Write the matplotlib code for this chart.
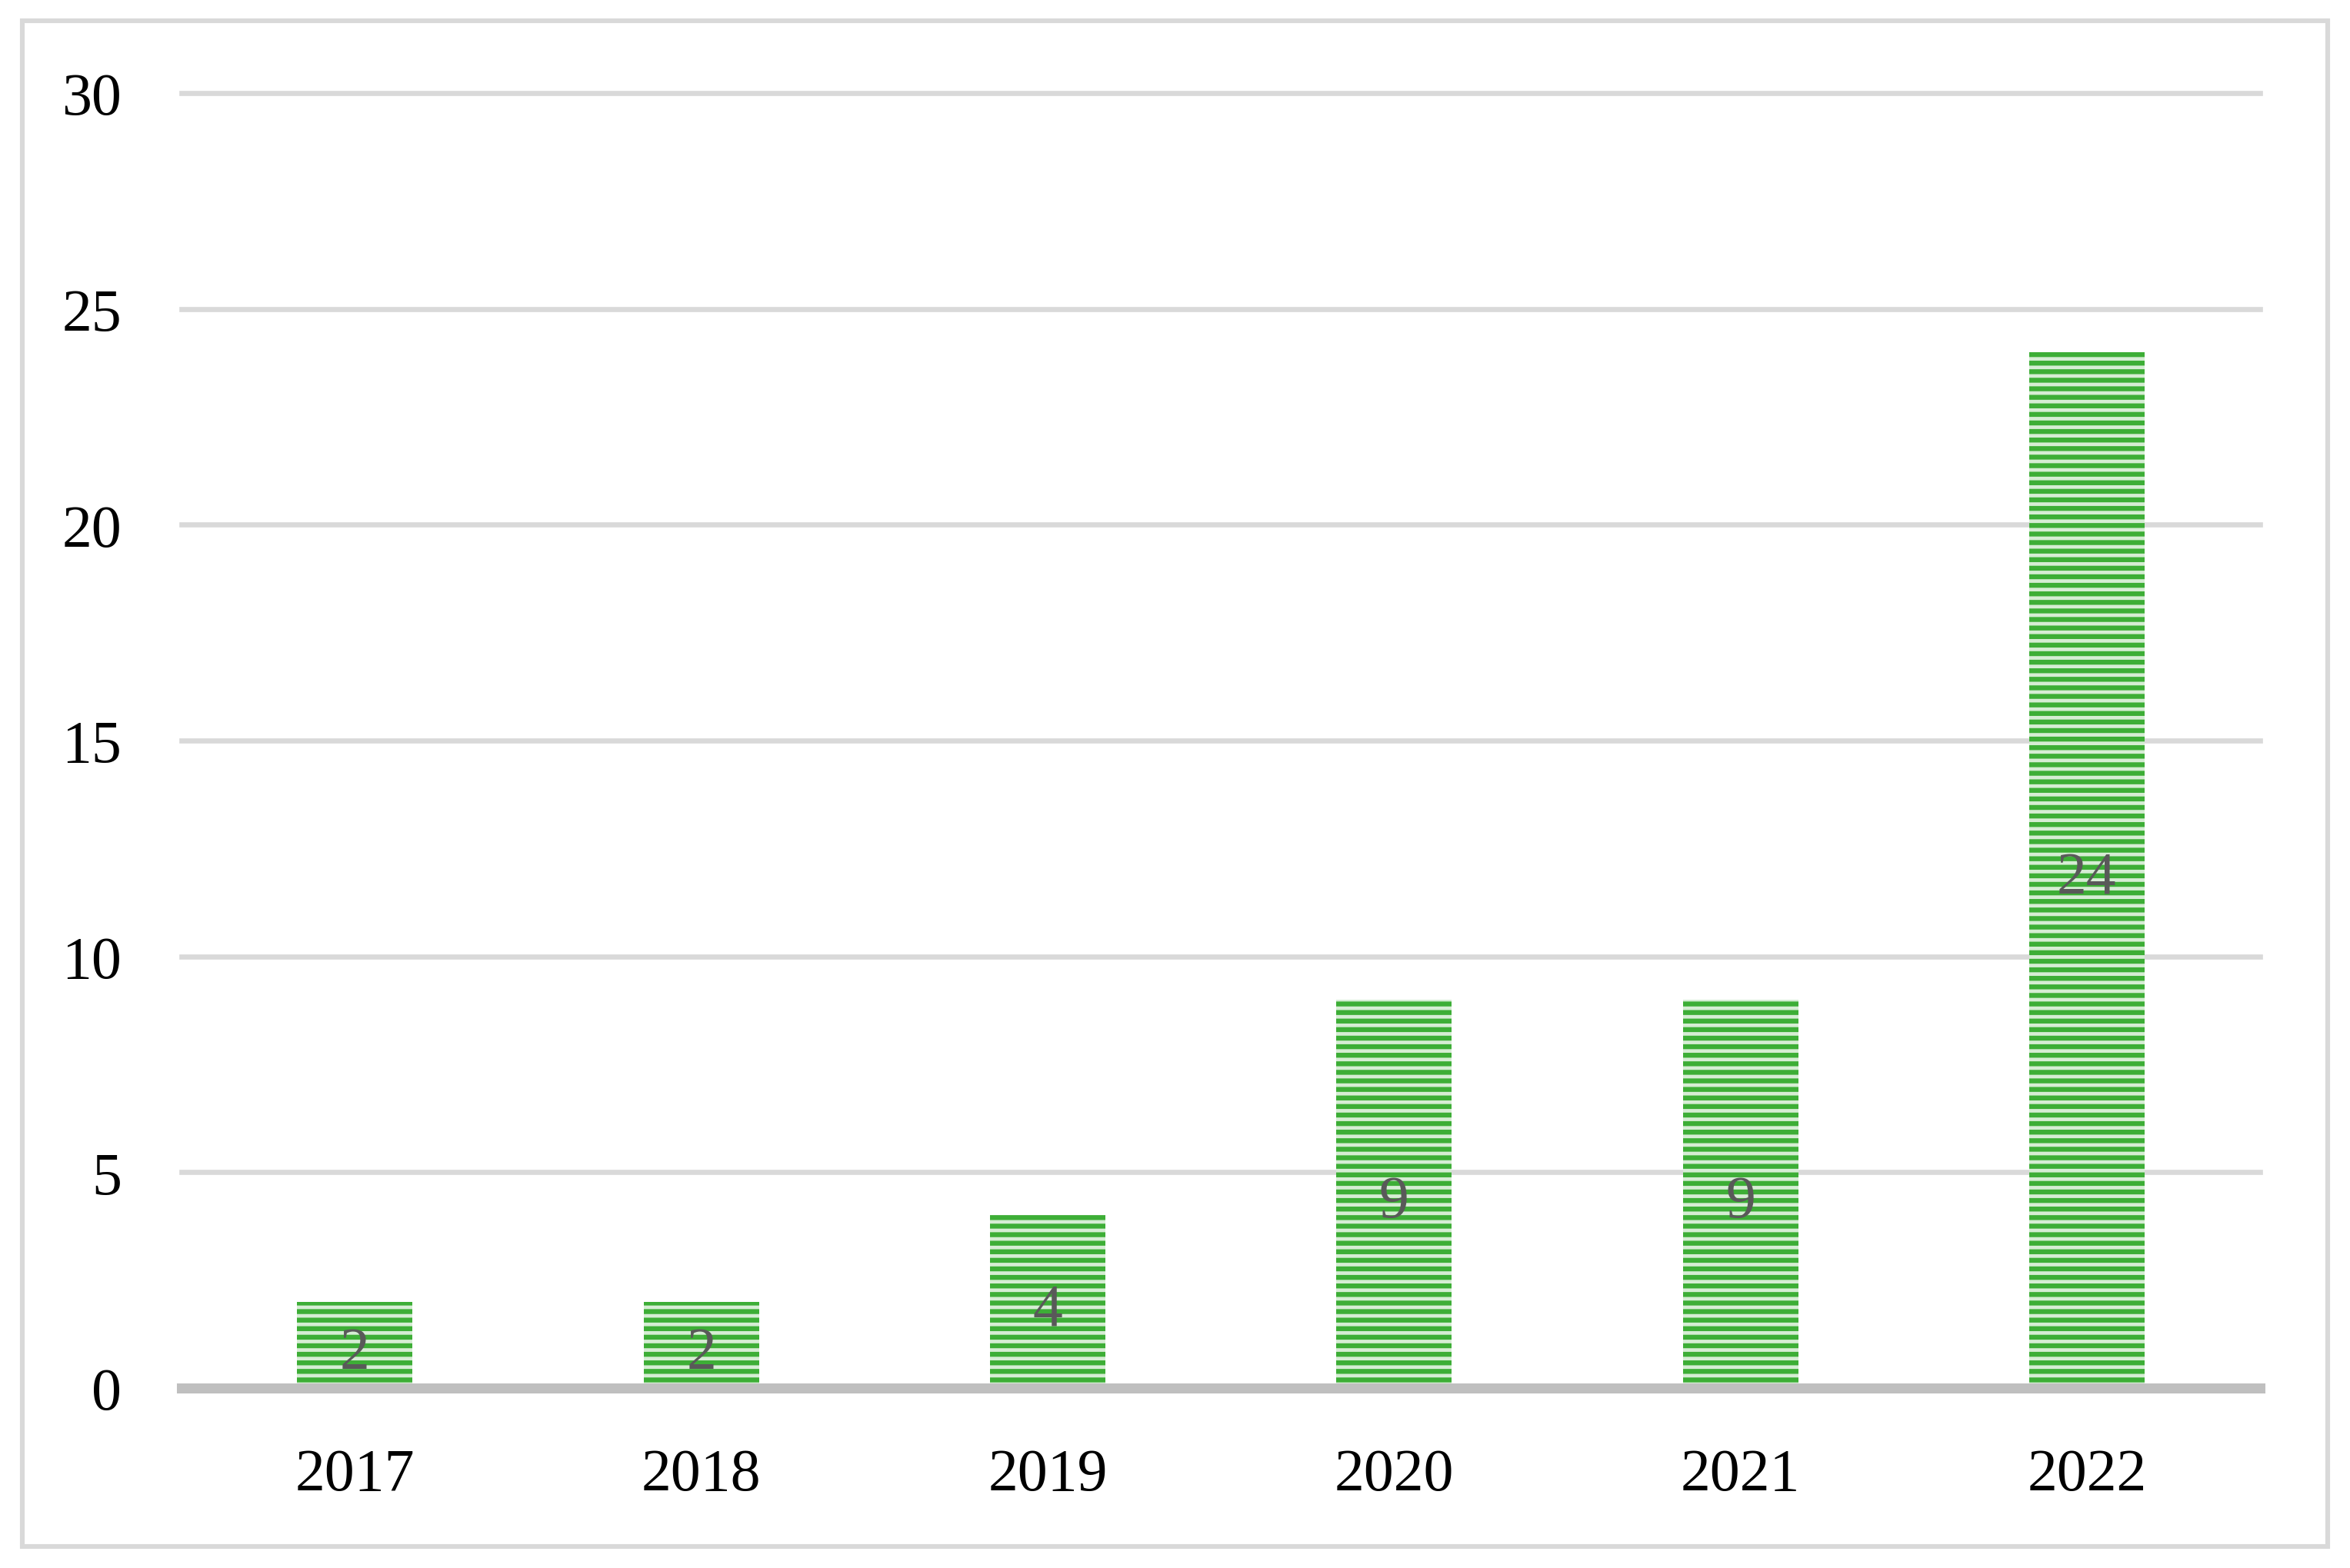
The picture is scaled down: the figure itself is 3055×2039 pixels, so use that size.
import matplotlib.pyplot as plt
from matplotlib.patches import Rectangle

years = ['2017', '2018', '2019', '2020', '2021', '2022']
counts = [2, 2, 4, 9, 9, 24]
yticks = [0, 5, 10, 15, 20, 25, 30]

plt.rcParams['font.family'] = ['Liberation Serif', 'DejaVu Serif']
plt.rcParams['hatch.linewidth'] = 2.3
plt.rcParams['hatch.color'] = '#3dae36'

fig = plt.figure(figsize=(15.275, 10.2), dpi=200)
ax = fig.add_axes([0.0773, 0.1147, 0.8844, 0.8255])

# outer frame
fig.patches.append(Rectangle((0.0095, 0.0135), 0.981, 0.973, transform=fig.transFigure,
                             fill=False, edgecolor='#d9d9d9', linewidth=2.2))

x = range(len(years))
bars = ax.bar(x, counts, width=0.333, color='#d6edd4', edgecolor='#3dae36',
              linewidth=0, hatch='---', zorder=3)

for b, v in zip(bars, counts):
    ax.annotate(str(v), (b.get_x() + b.get_width() / 2, v / 2), xytext=(0, -4),
                textcoords='offset points', ha='center', va='center',
                fontsize=28, color='#595959', zorder=4)

ax.set_xlim(-0.5, len(years) - 0.5)
ax.set_ylim(0, 30)
ax.set_yticks(yticks)
ax.set_xticks(list(x))
ax.set_xticklabels(years)
ax.tick_params(axis='both', length=0, labelsize=28, colors='black')
ax.tick_params(axis='y', pad=28)
ax.tick_params(axis='x', pad=28)

ax.grid(axis='y', color='#d9d9d9', linewidth=2.4, zorder=0)
for ln in ax.get_ygridlines():
    ln.set_clip_on(False)
for s in ['top', 'right', 'left']:
    ax.spines[s].set_visible(False)
ax.spines['bottom'].set_color('#bfbfbf')
ax.spines['bottom'].set_linewidth(4.7)
ax.spines['bottom'].set_zorder(5)

plt.savefig('out.png', dpi=200)
